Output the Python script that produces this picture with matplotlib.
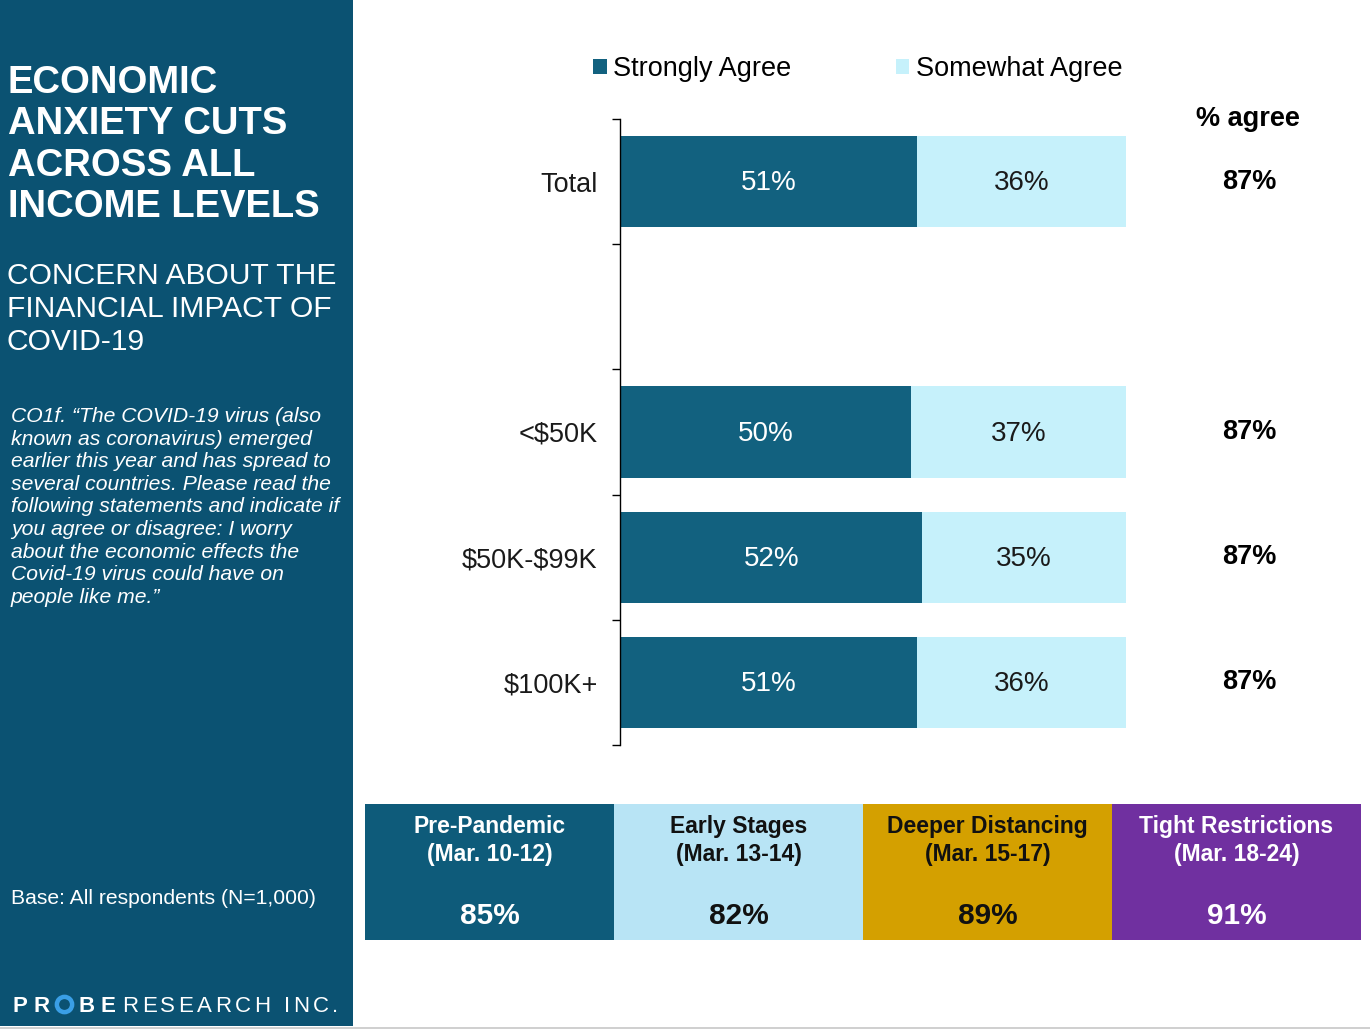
import numpy as np
import matplotlib
matplotlib.use("Agg")
import matplotlib.pyplot as plt
from matplotlib.lines import Line2D
from matplotlib.patches import Rectangle

plt.rcParams['font.family'] = ['Liberation Sans', 'DejaVu Sans']

# ---------------- data ----------------
categories = ["Total", "", "<\\$50K", "\\$50K-\\$99K", "\\$100K+"]
strongly_agree = [51, 0, 50, 52, 51]
somewhat_agree = [36, 0, 37, 35, 36]
pct_agree = [87, None, 87, 87, 87]

phase_names = ["Pre-Pandemic", "Early Stages", "Deeper Distancing", "Tight Restrictions"]
phase_dates = ["(Mar. 10-12)", "(Mar. 13-14)", "(Mar. 15-17)", "(Mar. 18-24)"]
phase_values = [85, 82, 89, 91]

title_lines = ["ECONOMIC", "ANXIETY CUTS", "ACROSS ALL", "INCOME LEVELS"]
subtitle_lines = ["CONCERN ABOUT THE", "FINANCIAL IMPACT OF", "COVID-19"]
question_lines = [
    "CO1f. \u201cThe COVID-19 virus (also",
    "known as coronavirus) emerged",
    "earlier this year and has spread to",
    "several countries. Please read the",
    "following statements and indicate if",
    "you agree or disagree: I worry",
    "about the economic effects the",
    "Covid-19 virus could have on",
    "people like me.\u201d",
]
base_text = "Base: All respondents (N=1,000)"

# ---------------- style ----------------
W, H = 1370, 1029
PANEL = '#0B5272'
DARK = '#12617F'
LIGHT = '#C6F1FB'
phase_colors = ['#0E5B7A', '#B8E4F5', '#D4A000', '#7030A0']
phase_text = ['white', '#111111', '#111111', 'white']

fig = plt.figure(figsize=(W / 100, H / 100), dpi=100)
fig.patch.set_facecolor('white')

def fx(px):
    return px / W

def fy(py):
    return 1 - py / H

# left panel
fig.add_artist(Rectangle((0, fy(1026)), fx(353), 1026 / H, transform=fig.transFigure,
                         facecolor=PANEL, edgecolor='none', zorder=0))
fig.add_artist(Rectangle((0, 0), 1, 2 / H, transform=fig.transFigure,
                         facecolor='#D0D0D0', edgecolor='none', zorder=0))

for i, line in enumerate(title_lines):
    fig.text(fx(8), fy(93 + 41.3 * i), line, color='white', fontsize=27.5,
             fontweight='bold', ha='left', va='baseline')
for i, line in enumerate(subtitle_lines):
    fig.text(fx(7), fy(284 + 33 * i), line, color='white', fontsize=21.6,
             ha='left', va='baseline')
for i, line in enumerate(question_lines):
    fig.text(fx(11), fy(422 + 22.6 * i), line, color='white', fontsize=15.2,
             fontstyle='italic', ha='left', va='baseline')
fig.text(fx(11), fy(904), base_text, color='white', fontsize=15.2, ha='left', va='baseline')

# logo
renderer = fig.canvas.get_renderer()

def spaced(x, y, s, size, weight, track, color='white'):
    for ch in s:
        if ch == ' ':
            x += size * 0.278 * 100 / 72 + track
            continue
        t = fig.text(fx(x), fy(y), ch, color=color, fontsize=size, fontweight=weight,
                     ha='left', va='baseline')
        x += t.get_window_extent(renderer).width + track
    return x

xe = spaced(13, 1012, "PR", 16, 'bold', 6)
ring_x = xe + 8
fig.add_artist(Line2D([fx(ring_x)], [fy(1004)], marker='o', markersize=11,
                      markerfacecolor='none', markeredgecolor='#3A9FE6',
                      markeredgewidth=3.2, transform=fig.transFigure))
xe = spaced(ring_x + 14, 1012, "BE", 16, 'bold', 6)
spaced(122, 1012, "RESEARCH INC.", 16, 'normal', 3.5)

# ---------------- main chart ----------------
ax = fig.add_axes([fx(620), fy(745), fx(1300) - fx(620), (745 - 119) / H])
y = np.arange(len(categories))
b1 = ax.barh(y, strongly_agree, height=0.73, color=DARK, label='Strongly Agree')
b2 = ax.barh(y, somewhat_agree, left=strongly_agree, height=0.73, color=LIGHT,
             label='Somewhat Agree')
ax.set_xlim(0, 680 / 5.816)
ax.set_ylim(len(categories) - 0.5, -0.5)
ax.set_yticks(y)
ax.set_yticklabels(categories, fontsize=19.5, color='#1a1a1a')
ax.set_yticks(np.arange(-0.5, len(categories), 1), minor=True)
ax.tick_params(axis='y', which='major', length=0, pad=16)
ax.tick_params(axis='y', which='minor', length=6, width=1, color='black', direction='out')
ax.set_xticks([])
for s in ['top', 'right', 'bottom']:
    ax.spines[s].set_visible(False)
ax.spines['left'].set_color('black')
ax.spines['left'].set_linewidth(1)
ax.set_facecolor('none')

for i in range(len(categories)):
    if strongly_agree[i] == 0:
        continue
    ax.text(strongly_agree[i] / 2, i + 0.015, f"{strongly_agree[i]}%", ha='center',
            va='center', color='white', fontsize=20)
    ax.text(strongly_agree[i] + somewhat_agree[i] / 2, i + 0.015, f"{somewhat_agree[i]}%",
            ha='center', va='center', color='#1a1a1a', fontsize=20)
    if pct_agree[i] is not None:
        ax.text(108.2, i, f"{pct_agree[i]}%", ha='center', va='center', color='black',
                fontsize=19.5, fontweight='bold')
ax.text(108, -0.5, "% agree", ha='center', va='center', color='black', fontsize=19.5,
        fontweight='bold', clip_on=False)

fig.legend(handles=[b1, b2], loc='center left', bbox_to_anchor=(fx(593), fy(69)),
           ncol=2, frameon=False, fontsize=19.5, handlelength=0.5, handleheight=0.5,
           handletextpad=0.25, columnspacing=3.85, borderpad=0, borderaxespad=0)

# ---------------- bottom phase boxes ----------------
ax2 = fig.add_axes([fx(365), fy(940), fx(1361) - fx(365), 136 / H])
ax2.bar(np.arange(len(phase_names)), [1] * len(phase_names), width=1.0,
        color=phase_colors, edgecolor='none')
ax2.set_xlim(-0.5, len(phase_names) - 0.5)
ax2.set_ylim(0, 1)
ax2.axis('off')
for i in range(len(phase_names)):
    ax2.text(i, 0.838, phase_names[i], ha='center', va='center', color=phase_text[i],
             fontsize=16.5, fontweight='bold')
    ax2.text(i, 0.632, phase_dates[i], ha='center', va='center', color=phase_text[i],
             fontsize=16.5, fontweight='bold')
    ax2.text(i, 0.18, f"{phase_values[i]}%", ha='center', va='center',
             color=phase_text[i], fontsize=21.5, fontweight='bold')

fig.savefig('out.png', dpi=100)
